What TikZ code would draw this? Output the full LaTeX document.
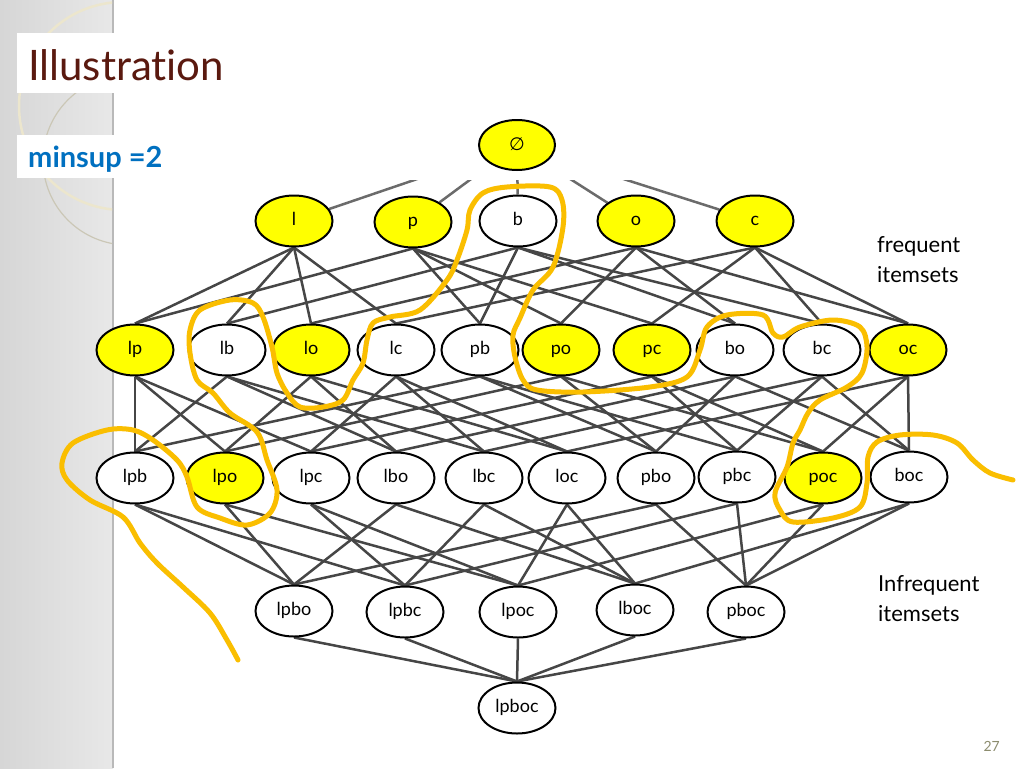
\documentclass[tikz,border=0pt]{standalone}
\usepackage{fontspec}
\setmainfont{Lato}[Ligatures=NoCommon]
\newfontfamily\symfont{DejaVu Sans}
\usetikzlibrary{shapes.geometric}
\pgfdeclarelayer{panel}
\pgfdeclarelayer{edges}
\pgfsetlayers{panel,edges,main}
\definecolor{hl}{RGB}{255,255,0}
\definecolor{marker}{RGB}{250,190,0}
\definecolor{titlec}{RGB}{90,25,15}
\definecolor{minc}{RGB}{0,112,192}
\definecolor{edgec}{RGB}{70,70,70}
\definecolor{pnum}{RGB}{140,140,110}
\definecolor{panelA}{RGB}{214,214,214}
\definecolor{panelB}{RGB}{232,232,232}
\definecolor{ring}{RGB}{236,230,205}
\begin{document}
\begin{tikzpicture}[x=1pt,y=-1pt,
  setnode/.style={ellipse,draw=black,line width=2pt,fill=white,minimum width=77pt,minimum height=51pt,inner sep=0pt,text height=12pt,text depth=4pt,font=\fontsize{18}{18}\selectfont},
  freq/.style={setnode,fill=hl},
  link/.style={draw=edgec,line width=2.5pt},
  hand/.style={draw=marker,line width=5pt,line cap=round,line join=round},
  sidetext/.style={anchor=base west,font=\fontsize{22}{30}\selectfont,align=left,inner sep=0pt}
]
\useasboundingbox (0,0) rectangle (1024,768);
\begin{pgfonlayer}{panel}
  \fill[white] (0,0) rectangle (1024,768);
  \shade[left color=panelA,right color=panelB] (0,0) rectangle (113,768);
  \draw[gray!55,line width=1.5pt] (113,0) -- (113,768);
  \begin{scope}
    \clip (0,0) rectangle (112,768);
    \draw[ring,line width=2.5pt] (123,106) circle (104);
    \draw[ring!70!gray,line width=1.2pt] (128,160) circle (85);
  \end{scope}
  \fill[white] (17,33) rectangle (118,93);
  \fill[white] (17,135) rectangle (118,178);
\end{pgfonlayer}

% title and labels
\node[anchor=base west,inner sep=0pt,text=titlec,font=\fontsize{42}{42}\selectfont] (title) at (28,80) {Illustration};
\node[anchor=base west,inner sep=0pt,text=minc,font=\bfseries\fontsize{29}{29}\selectfont] (minsup) at (28,167) {minsup =2};
\node[sidetext] (freqlab) at (877,282) {frequent\\itemsets};
\node[sidetext] (infreqlab) at (878,621) {Infrequent\\itemsets};
\node[anchor=base east,inner sep=0pt,text=pnum,font=\fontsize{14}{14}\selectfont] (pnum) at (1000,751) {27};

% level 0
\node[freq,minimum width=76pt,minimum height=50pt,text height=13pt,text depth=2pt,font=\symfont\fontsize{18}{18}\selectfont] (e) at (517,145) {∅};
% level 1
\node[freq] (l) at (294,221) {l};
\node[freq] (p) at (413,222) {p};
\node[setnode] (b) at (518,221) {b};
\node[freq] (o) at (636,221) {o};
\node[freq] (c) at (755,221) {c};
% level 2
\node[freq] (lp) at (135,350) {lp};
\node[setnode] (lb) at (227,350) {lb};
\node[freq] (lo) at (311,350) {lo};
\node[setnode] (lc) at (396,350) {lc};
\node[setnode] (pb) at (480,350) {pb};
\node[freq] (po) at (561,350) {po};
\node[freq] (pc) at (652,350) {pc};
\node[setnode] (bo) at (735,350) {bo};
\node[setnode] (bc) at (822,350) {bc};
\node[freq] (oc) at (908,350) {oc};
% level 3
\node[setnode] (lpb) at (135,478) {lpb};
\node[freq] (lpo) at (225,478) {lpo};
\node[setnode] (lpc) at (311,478) {lpc};
\node[setnode] (lbo) at (396,478) {lbo};
\node[setnode] (lbc) at (484,478) {lbc};
\node[setnode] (loc) at (567,478) {loc};
\node[setnode] (pbo) at (656,478) {pbo};
\node[setnode] (pbc) at (737,477) {pbc};
\node[freq] (poc) at (823,478) {poc};
\node[setnode] (boc) at (909,477) {boc};
% level 4
\node[setnode] (lpbo) at (294,611) {lpbo};
\node[setnode] (lpbc) at (405,612) {lpbc};
\node[setnode] (lpoc) at (518,612) {lpoc};
\node[setnode] (lboc) at (635,610) {lboc};
\node[setnode] (pboc) at (746,612) {pboc};
% level 5
\node[setnode] (lpboc) at (517,708) {lpboc};

\begin{pgfonlayer}{edges}
  \begin{scope}
    \clip (0,180) rectangle (1024,768);
    \foreach \t in {l,p,b,o,c} \draw[link,draw=edgec!80] (e) -- (\t);
  \end{scope}
  \foreach \t/\a/\b in {lp/l/p,lb/l/b,lo/l/o,lc/l/c,pb/p/b,po/p/o,pc/p/c,bo/b/o,bc/b/c,oc/o/c}{
    \draw[link] (\a.south) -- (\t.north);
    \draw[link] (\b.south) -- (\t.north);
  }
  \foreach \t/\a/\b/\c in {lpb/lp/lb/pb,lpo/lp/lo/po,lpc/lp/lc/pc,lbo/lb/lo/bo,lbc/lb/lc/bc,loc/lo/lc/oc,pbo/pb/po/bo,pbc/pb/pc/bc,poc/po/pc/oc,boc/bo/bc/oc}{
    \draw[link] (\a.south) -- (\t.north);
    \draw[link] (\b.south) -- (\t.north);
    \draw[link] (\c.south) -- (\t.north);
  }
  \foreach \t/\a/\b/\c/\d in {lpbo/lpb/lpo/lbo/pbo,lpbc/lpb/lpc/lbc/pbc,lpoc/lpo/lpc/loc/poc,lboc/lbo/lbc/loc/boc,pboc/pbo/pbc/poc/boc}{
    \draw[link] (\a.south) -- (\t.north);
    \draw[link] (\b.south) -- (\t.north);
    \draw[link] (\c.south) -- (\t.north);
    \draw[link] (\d.south) -- (\t.north);
  }
  \foreach \a in {lpbo,lpbc,lpoc,lboc,pboc} \draw[link] (\a.south) -- (lpboc.north);
\end{pgfonlayer}

% hand-drawn marker curve
\draw[hand] plot[smooth,tension=0.55] coordinates {
 (238,660) (227,640) (210,613) (183,587) (157,563) (140,543) (123,517) (90,500) (67,480) (62,463)
 (73,443) (107,430) (133,430) (153,440) (177,460) (187,477) (197,507) (220,518) (247,525) (270,513)
 (277,490) (267,460) (257,432) (230,413) (213,393) (197,380) (190,353) (190,330) (200,310) (230,300)
 (253,303) (263,317) (272,347) (277,373) (287,393) (300,407) (323,407) (343,400) (353,380) (363,363)
 (367,340) (373,323) (390,317) (420,310) (447,280) (457,260) (467,230) (470,210) (483,193) (507,187)
 (550,187) (562,200) (563,227) (553,267) (533,290) (520,318) (513,335) (515,357) (523,380) (537,390)
 (583,392) (650,387) (687,377) (700,350) (707,327) (727,315) (763,315) (773,333) (783,337) (800,327)
 (833,320) (860,327) (867,347) (862,373) (847,387) (820,400) (808,413) (800,430) (793,443) (787,467)
 (775,493) (780,510) (793,522) (833,518) (860,507) (867,483) (868,457) (877,442) (900,435) (933,435)
 (957,443) (973,460) (990,473) (1013,480)};
\end{tikzpicture}
\end{document}
